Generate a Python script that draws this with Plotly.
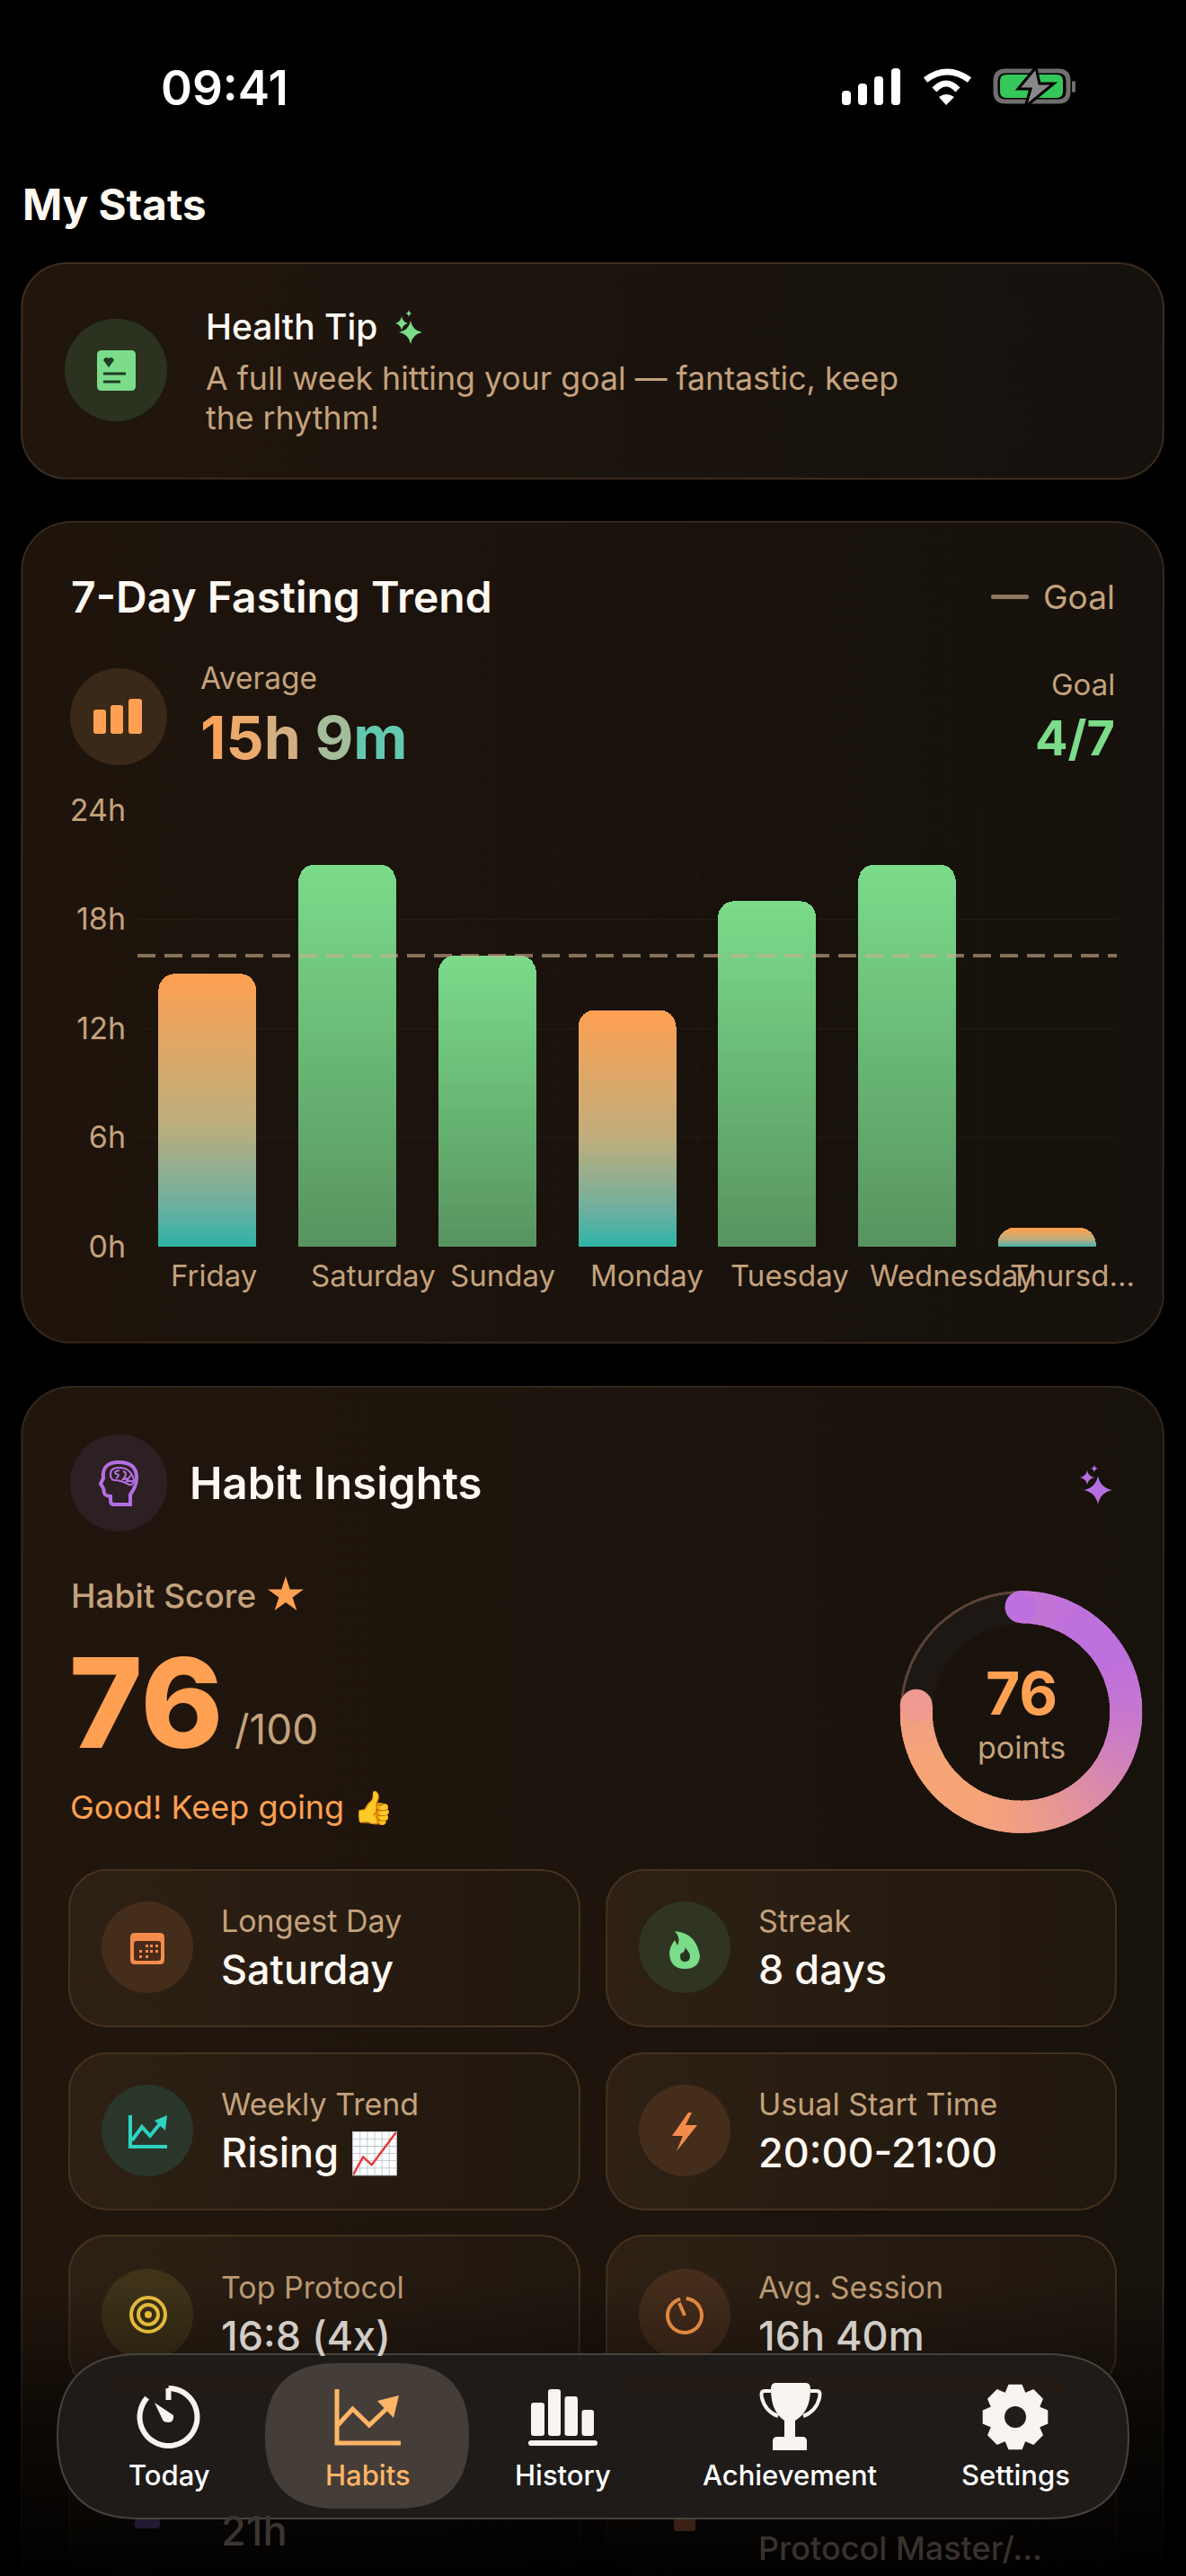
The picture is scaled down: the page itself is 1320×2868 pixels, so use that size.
import math
import plotly.graph_objects as go

# chart values
days = ["Friday", "Saturday", "Sunday", "Monday", "Tuesday", "Wednesday", "Thursd..."]
hours = [15, 21, 16, 13, 19, 21, 1]
goal_hours = 16
y_ticks = [0, 6, 12, 18, 24]
y_labels = ["0h", "6h", "12h", "18h", "24h"]
score = 76
score_max = 100
avg_chars = ["1", "5", "h", " ", "9", "m"]
avg_colors = ["#F7A35C", "#EBAA6C", "#D4AF82", "#C0B48F", "#A3BC9A", "#62C9B0"]
tile_labels = ["Longest Day", "Streak", "Weekly Trend", "Usual Start Time", "Top Protocol", "Avg. Session"]
tile_values = ["Saturday", "8 days", "Rising 📈", "20:00-21:00", "16:8 (4x)", "16h 40m"]
nav_labels = ["Today", "Habits", "History", "Achievement", "Settings"]

W = 1320
H = 2868
TAN = "#C4A27C"
WHITE = "#FFF9F2"
ORANGE = "#FFA052"
GREEN = "#7BDC8A"
PURPLE = "#B56FE0"
FONT = "Inter"

fig = go.Figure()


def rr_pts(x0, y0, x1, y1, r):
    xs, ys = [], []
    corners = [(x1 - r, y0 + r, -90), (x1 - r, y1 - r, 0), (x0 + r, y1 - r, 90), (x0 + r, y0 + r, 180)]
    for cx, cy, a in corners:
        for i in range(13):
            t = math.radians(a + i * 7.5)
            xs.append(cx + r * math.cos(t))
            ys.append(cy + r * math.sin(t))
    xs.append(xs[0])
    ys.append(ys[0])
    return xs, ys


def card(x0, y0, x1, y1, r, c0, c1, border, w=2):
    xs, ys = rr_pts(x0, y0, x1, y1, r)
    fig.add_trace(go.Scatter(x=xs, y=ys, mode="lines", fill="toself", hoverinfo="skip",
                             fillgradient=dict(type="horizontal", colorscale=[[0, c0], [1, c1]]),
                             line=dict(color=border, width=w), xaxis="x", yaxis="y"))


def dot(cx, cy, r, color):
    fig.add_trace(go.Scatter(x=[cx], y=[cy], mode="markers", hoverinfo="skip", xaxis="x", yaxis="y",
                             marker=dict(size=2 * r, color=color, line=dict(width=0))))


def txt(x, y, text, size, color, weight=400, anchor="left"):
    fig.add_annotation(x=x, y=y, xref="x", yref="y", text=text, showarrow=False, xanchor=anchor, yanchor="middle",
                       font=dict(family=FONT, size=size, color=color, weight=weight), borderpad=0, borderwidth=0)


def sh(path, fill="rgba(0,0,0,0)", line="rgba(0,0,0,0)", w=0):
    fig.add_shape(type="path", path=path, xref="x", yref="y", fillcolor=fill,
                  line=dict(color=line, width=w), layer="above")


def rrect(x0, y0, x1, y1, r):
    return (f"M {x0+r},{y0} L {x1-r},{y0} Q {x1},{y0} {x1},{y0+r} L {x1},{y1-r} Q {x1},{y1} {x1-r},{y1} "
            f"L {x0+r},{y1} Q {x0},{y1} {x0},{y1-r} L {x0},{y0+r} Q {x0},{y0} {x0+r},{y0} Z")


def circ(cx, cy, r, fill="rgba(0,0,0,0)", line="rgba(0,0,0,0)", w=0):
    fig.add_shape(type="circle", x0=cx - r, x1=cx + r, y0=cy - r, y1=cy + r, xref="x", yref="y",
                  fillcolor=fill, line=dict(color=line, width=w), layer="above")


def sparkle(cx, cy, rx, ry, color):
    kx, ky = rx * 0.16, ry * 0.16
    sh(f"M {cx},{cy-ry} Q {cx+kx},{cy-ky} {cx+rx},{cy} Q {cx+kx},{cy+ky} {cx},{cy+ry} "
       f"Q {cx-kx},{cy+ky} {cx-rx},{cy} Q {cx-kx},{cy-ky} {cx},{cy-ry} Z", fill=color)


def arc(cx, cy, r, a0, a1):
    pts = []
    for i in range(41):
        t = math.radians(a0 + (a1 - a0) * i / 40)
        pts.append(f"{cx + r * math.sin(t):.1f},{cy - r * math.cos(t):.1f}")
    return "M " + " L ".join(pts)


def mix(stops, t):
    for (t0, c0), (t1, c1) in zip(stops, stops[1:]):
        if t <= t1:
            k = (t - t0) / (t1 - t0)
            return "rgb(%d,%d,%d)" % tuple(c0[i] + (c1[i] - c0[i]) * k for i in range(3))
    return "rgb(%d,%d,%d)" % stops[-1][1]


# ---- cards
card(24, 293, 1295, 533, 50, "#21160D", "#15110D", "#3E2C1E")
card(24, 581, 1295, 1495, 55, "#1E140C", "#16110C", "#36281C")
card(24, 1544, 1295, 2900, 55, "#21160D", "#18120C", "#33271C")
for row, y0 in enumerate([2082, 2286, 2489, 2693]):
    card(77, y0, 645, y0 + 174, 42, "#2E2014", "#20170F", "#44321F")
    card(675, y0, 1242, y0 + 174, 42, "#2E2014", "#20170F", "#44321F")

dot(129, 412, 57, "#2B3320")
dot(132, 798, 54, "#3A2818")
dot(132, 1651, 54, "#2D2024")
for y, colors in [(2168, ("#452D1C", "#2F3522")), (2372, ("#2B362B", "#452D1C")), (2577, ("#3E3319", "#452D1C"))]:
    dot(164, y, 51, colors[0])
    dot(762, y, 51, colors[1])

# bottom fade over the scrolled content
fig.add_trace(go.Scatter(x=[0, W, W, 0, 0], y=[2540, 2540, H, H, 2540], mode="lines", fill="toself", hoverinfo="skip",
                         line=dict(width=0), xaxis="x", yaxis="y",
                         fillgradient=dict(type="vertical", colorscale=[[0, "rgba(0,0,0,0.97)"], [0.5, "rgba(0,0,0,0.6)"], [1, "rgba(0,0,0,0)"]])))

# ---- fasting bars: each bar is a stack of thin slices so it can carry a vertical gradient
GREEN_STOPS = [(0, (123, 220, 138)), (1, (88, 148, 96))]
ORANGE_STOPS = [(0, (255, 160, 82)), (0.55, (190, 174, 125)), (0.85, (110, 176, 160)), (1, (45, 180, 168))]
N = 48
for k in range(N):
    t = 1 - (k + 0.5) / N
    colors = [mix(GREEN_STOPS if h >= goal_hours else ORANGE_STOPS, t) for h in hours]
    fig.add_trace(go.Bar(x=days, y=[h / N for h in hours], marker=dict(color=colors, line=dict(width=0)),
                         xaxis="x2", yaxis="y2", hoverinfo="skip"))

fig.add_shape(type="line", xref="x2 domain", yref="y2", x0=0, x1=1, y0=goal_hours, y1=goal_hours,
              line=dict(color="rgba(205,175,145,0.6)", width=4, dash="20px,10px"), layer="above")

for d in days:
    fig.add_annotation(x=d, y=1388, xref="x2", yref="y", text=d, showarrow=False, xanchor="left", yanchor="middle",
                       xshift=-43, yshift=-32, font=dict(family=FONT, size=33, color=TAN))

# ---- score ring
th = [(i + 0.5) * 360 / score_max for i in range(score)]
PINK_STOPS = [(0, (190, 112, 222)), (1, (248, 166, 118))]
ring_colors = []
for a in th:
    s, c = math.sin(math.radians(a)), math.cos(math.radians(a))
    ring_colors.append(mix(PINK_STOPS, 0.5 - 0.5 * (s + c) * 0.7071))
rest = [(i + 0.5) * 360 / score_max for i in range(score, score_max)]
fig.add_trace(go.Barpolar(theta=rest, r=[36] * len(rest), base=99, width=3.6, hoverinfo="skip",
                          marker=dict(color="#1E1814", line=dict(width=0.6, color="#1E1814"))))
fig.add_trace(go.Barpolar(theta=rest, r=[3] * len(rest), base=132, width=3.6, hoverinfo="skip",
                          marker=dict(color="#5A4336", line=dict(width=0.3, color="#5A4336"))))
fig.add_trace(go.Barpolar(theta=th, r=[36] * score, base=99, width=3.6, hoverinfo="skip",
                          marker=dict(color=ring_colors, line=dict(width=0.6, color=ring_colors))))
fig.add_trace(go.Scatterpolar(theta=[0, score * 3.6], r=[117, 117], mode="markers", hoverinfo="skip",
                              marker=dict(size=36, color=["#BE70DE", "#EE9A90"], line=dict(width=0))))

# ---- status bar
txt(250, 98, "09:41", 53, "#FFFFFF", 600, "center")
for x0, x1, top in [(937, 947, 101), (955, 965, 93), (973, 983, 85), (992, 1002, 76)]:
    sh(rrect(x0, top, x1, 117, 4), fill="#FFFFFF")
sh("M 1030,89 Q 1054,71 1079,89", line="#FFFFFF", w=7)
sh("M 1040,100 Q 1053,86 1066,100", line="#FFFFFF", w=7)
sh("M 1045,108 Q 1053,102 1062,108 L 1053,117 Z", fill="#FFFFFF")
sh(rrect(1108, 79, 1189, 113, 11), line="#6F6F6F", w=5)
sh(rrect(1113, 83, 1183, 109, 7), fill="#34C759")
sh(rrect(1193, 90, 1197, 103, 2), fill="#6F6F6F")
sh("M 1153,75 L 1133,99 L 1147,99 L 1141,119 L 1173,93 L 1157,93 Z", fill="#888888", line="#000000", w=3)

txt(25, 227, "My Stats", 47.5, WHITE, 700)

# ---- health tip
sh(rrect(108, 390, 151, 435, 5), fill=GREEN)
sh("M 121,409 L 115,401 Q 117,396 121,399 Q 125,396 127,401 Z", fill="#1F3A25")
sh("M 115,416 L 140,416 M 115,425 L 134,425", line="#1F3A25", w=3)
txt(229, 363, "Health Tip", 39, WHITE, 500)
sparkle(457, 370, 13, 13, GREEN)
sparkle(447, 360, 7, 8, GREEN)
sparkle(455, 349, 3.5, 4, GREEN)
txt(229, 421, "A full week hitting your goal — fantastic, keep", 35.7, TAN)
txt(229, 465, "the rhythm!", 35.7, TAN)

# ---- trend header
txt(79, 664, "7-Day Fasting Trend", 48, WHITE, 600)
sh(rrect(1103, 662, 1145, 667, 2), fill="#8D7660")
txt(1241, 664, "Goal", 37, TAN, 400, "right")
sh(rrect(104, 790, 118, 817, 3), fill=ORANGE)
sh(rrect(123, 785, 137, 817, 3), fill=ORANGE)
sh(rrect(143, 778, 158, 817, 3), fill=ORANGE)
txt(223, 755, "Average", 33.5, TAN)
avg_text = "".join(f"<span style='color:{c}'>{ch}</span>" for ch, c in zip(avg_chars, avg_colors))
txt(223, 821, avg_text, 66, ORANGE, 700)
txt(1241, 762, "Goal", 33, TAN, 400, "right")
txt(1241, 821, "4/7", 54, GREEN, 700, "right")

# ---- habit insights header
sh("M 145,1675 L 126,1675 Q 123,1675 123,1670 L 123,1666 Q 116,1665 116,1662 L 115,1657 L 112,1652 "
   "L 115,1646 Q 113,1628 132,1628 Q 152,1628 152,1645 Q 152,1655 145,1664 Z", line=PURPLE, w=4)
sh("M 123,1643 Q 122,1634 132,1634 Q 146,1634 149,1648 Q 148,1654 144,1653 Q 134,1648 128,1648 Q 124,1648 123,1643 Z",
   line=PURPLE, w=2)
sh("M 133,1637 Q 126,1638 129,1641 Q 135,1642 129,1646 M 137,1638 Q 143,1640 137,1647 L 143,1646 M 146,1642 L 141,1649 L 148,1649",
   line=PURPLE, w=2)
txt(211, 1651, "Habit Insights", 49, WHITE, 600)
sparkle(1222, 1659, 16, 16, PURPLE)
sparkle(1210, 1645, 8, 8, PURPLE)
sparkle(1218, 1635, 4, 4, PURPLE)
txt(79, 1776, "Habit Score", 37, TAN, 500)
fig.add_trace(go.Scatter(x=[318], y=[1776], mode="markers", hoverinfo="skip", xaxis="x", yaxis="y",
                         marker=dict(symbol="star", size=30, color=ORANGE, line=dict(width=0))))
txt(77, 1895, str(score), 139, ORANGE, 800)
txt(261, 1925, f"/{score_max}", 46, TAN)
txt(78, 2012, "Good! Keep going 👍", 36, ORANGE)
txt(1137, 1885, str(score), 66, ORANGE, 700, "center")
txt(1137, 1945, "points", 34, TAN, 400, "center")

# ---- tiles
tile_x = [246, 844]
tile_y = [(2138, 2192), (2342, 2396), (2546, 2600)]
for i, (lab, val) in enumerate(zip(tile_labels, tile_values)):
    col = i % 2
    row = i // 2
    txt(tile_x[col], tile_y[row][0], lab, 34, TAN if row < 2 else "#B89872")
    txt(tile_x[col], tile_y[row][1], val, 45, WHITE if row < 2 else "#D2CCC6", 500)
txt(246, 2817, "21h", 45, "#3A3530", 500)
txt(844, 2837, "Protocol Master/...", 36, "#38322D", 500)

# calendar
sh(rrect(145, 2152, 183, 2187, 5), fill="#F58B4B")
sh(rrect(149, 2161, 179, 2183, 3), fill="#4A2A18")
dots = ""
for yy, cols in [(2165, [162, 167, 173]), (2171, [155, 162, 167, 173]), (2177, [155, 162])]:
    for xx in cols:
        dots += f"M {xx},{yy} L {xx+3},{yy} L {xx+3},{yy+3} L {xx},{yy+3} Z "
sh(dots, fill="#F58B4B")
# flame
sh("M 751,2150 Q 775,2152 779,2178 Q 778,2192 762,2192 Q 746,2192 745,2175 Q 745,2168 751,2160 L 754,2166 Q 758,2158 751,2150 Z", fill=GREEN)
sh("M 762,2168 Q 768,2174 768,2178 Q 768,2184 762,2184 Q 757,2184 757,2178 Q 757,2174 760,2174 Q 763,2172 762,2168 Z", fill="#2B3320")
# trend
sh("M 145,2355 L 145,2390 L 186,2390", line="#2DD4BF", w=4)
sh("M 147,2383 L 158,2368 L 167,2378 L 180,2362", line="#2DD4BF", w=4)
sh("M 172,2361 L 186,2355 L 184,2372 Z", fill="#2DD4BF")
# bolt
sh("M 766,2352 L 748,2378 L 760,2378 L 753,2395 L 776,2366 L 763,2366 L 770,2352 Z", fill="#F58B4B")
# target
circ(165, 2577, 19, line="#E2B93B", w=4)
circ(165, 2577, 11, line="#E2B93B", w=4)
circ(165, 2577, 4, fill="#E2B93B")
# timer
sh(arc(762, 2578, 19, 5, 345), line="#E0873F", w=4)
sh("M 762,2578 L 756,2564", line="#E0873F", w=4)

# icons of the last row just show below the tab bar
sh(rrect(150, 2804, 178, 2815, 4), fill="#221A33")
sh(rrect(750, 2804, 774, 2818, 3), fill="#3A2014")

# ---- tab bar
sh(rrect(64, 2621, 1256, 2804, 91), fill="rgba(31,28,26,0.97)", line="#47423C", w=2)
sh(rrect(122, 2648, 505, 2664, 8), fill="#241B14")
sh(rrect(694, 2648, 1187, 2664, 8), fill="#241B14")
sh(rrect(295, 2631, 522, 2793, 80), fill="#453E38")
nav_x = [188, 409, 626, 879, 1130]
for i, (lab, x) in enumerate(zip(nav_labels, nav_x)):
    txt(x, 2755, lab, 31, "#FFB566" if lab == "Habits" else "#FFFFFF", 500, "center")
# today
sh(arc(187.5, 2691, 32, 0, 312), line="#F8F4F0", w=6)
sh("M 187.5,2659 L 187.5,2672", line="#F8F4F0", w=6)
sh("M 172,2675 L 193,2689 Q 194,2696 188,2697 Q 182,2697 181,2694 Z", fill="#F8F4F0")
# habits
sh("M 375,2660 L 375,2720 L 446,2720", line="#FFB566", w=5)
sh("M 376,2700 L 392.5,2682 L 411,2700 L 430,2682", line="#FFB566", w=5)
sh("M 420,2673 L 444,2667 L 438,2692 Z", fill="#FFB566")
# history
for x0, x1, top in [(591, 606, 2675), (610, 624, 2660), (628.5, 643, 2668), (647.5, 661, 2683)]:
    sh(rrect(x0, top, x1, 2712, 3), fill="#F8F4F0")
sh(rrect(588, 2717, 665, 2723, 3), fill="#F8F4F0")
# trophy
sh("M 863,2653 L 897,2653 Q 902,2653 902,2660 Q 902,2685 885,2695 L 885,2713 L 893,2713 Q 898,2713 898,2718 L 898,2728 "
   "L 860,2728 L 860,2718 Q 860,2713 865,2713 L 873,2713 L 873,2695 Q 858,2685 858,2660 Q 858,2653 863,2653 Z", fill="#F8F4F0")
sh("M 858,2662 L 851,2662 Q 846,2662 848,2670 Q 852,2685 866,2690", line="#F8F4F0", w=4)
sh("M 902,2662 L 909,2662 Q 914,2662 912,2670 Q 908,2685 894,2690", line="#F8F4F0", w=4)
# gear
gear = []
for i in range(8):
    for da, rad in [(-22.5, 28), (-11, 36), (11, 36), (22.5, 28)]:
        t = math.radians(i * 45 + da)
        gear.append(f"{1130 + rad * math.sin(t):.1f},{2691 - rad * math.cos(t):.1f}")
sh("M " + " L ".join(gear) + " Z", fill="#F8F4F0", line="#F8F4F0", w=2)
circ(1130, 2691, 12, fill="#1F1C1A")

fig.update_layout(
    width=W, height=H, margin=dict(l=0, r=0, t=0, b=0, autoexpand=False), paper_bgcolor="#000000", plot_bgcolor="rgba(0,0,0,0)",
    showlegend=False, barmode="stack", bargap=0.30, barcornerradius=18,
    font=dict(family=FONT),
    xaxis=dict(range=[0, W], domain=[0, 1], visible=False, fixedrange=True),
    yaxis=dict(range=[H, 0], domain=[0, 1], visible=False, fixedrange=True),
    xaxis2=dict(domain=[153 / W, 1243 / W], anchor="y2", type="category", categoryorder="array", categoryarray=days,
                range=[-0.5, 6.5], showticklabels=False, ticks="", tickson="boundaries", showgrid=True,
                gridcolor="rgba(255,255,255,0.02)", zeroline=False, showline=False, fixedrange=True),
    yaxis2=dict(domain=[1 - 1388 / H, 1 - 902 / H], anchor="x2", range=[0, 24], tickmode="array", tickvals=y_ticks,
                ticktext=y_labels, tickfont=dict(family=FONT, size=34, color=TAN), ticks="", ticklabelstandoff=12,
                showgrid=True, gridcolor="rgba(255,255,255,0.04)", zeroline=False, showline=False, fixedrange=True),
    polar=dict(domain=dict(x=[(1136.5 - 135) / W, (1136.5 + 135) / W], y=[1 - (1906 + 135) / H, 1 - (1906 - 135) / H]),
               bgcolor="rgba(0,0,0,0)", barmode="overlay",
               radialaxis=dict(range=[0, 135], visible=False),
               angularaxis=dict(visible=False, direction="clockwise", rotation=90)),
)

fig.write_html("out.html", config=dict(displayModeBar=False),
               post_script="document.body.style.margin='0';document.body.style.background='#000';document.body.style.overflow='hidden';")
